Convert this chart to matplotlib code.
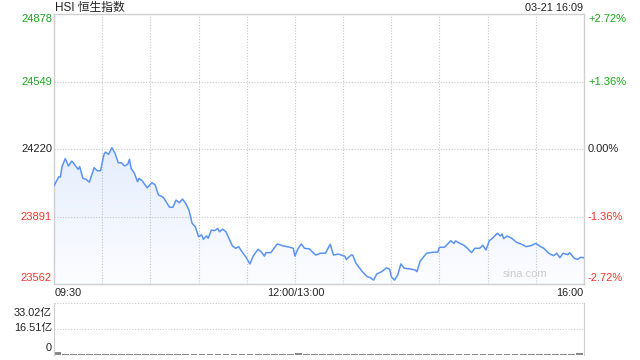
import numpy as np
import matplotlib
matplotlib.use("Agg")
import matplotlib.pyplot as plt
from matplotlib.patches import PathPatch
from matplotlib.path import Path

plt.rcParams['font.family'] = ['Liberation Sans', 'Noto Sans CJK SC', 'DejaVu Sans']

# ---- data ----
title = "HSI 恒生指数"
stamp = "03-21 16:09"
prev_close = 24220
y_ticks = [23562, 23891, 24220, 24549, 24878]
y_tick_labels = ["23562", "23891", "24220", "24549", "24878"]
pct_labels = ["-2.72%", "-1.36%", "0.00%", "+1.36%", "+2.72%"]
x_tick_labels = ["09:30", "12:00/13:00", "16:00"]
vol_tick_labels = ["0", "16.51亿", "33.02亿"]
vol_max = 33.02

# trading minutes since 09:30 (lunch break removed; 150 = 12:00/13:00)
minutes = [0, 3, 4, 5, 7, 9, 11, 12, 15, 16, 18, 20, 22, 25, 27, 29, 31, 32, 34, 36,
           38, 40, 42, 44, 46, 47, 48, 50, 52, 53, 55, 58, 61, 63, 65, 68, 72, 74, 76, 78,
           80, 82, 84, 86, 88, 90, 92, 93, 95, 96, 98, 100, 102, 103, 105, 107, 111, 113, 115, 116,
           120, 122, 124, 127, 129, 131, 132, 135, 139, 143, 147, 149, 150, 152, 154, 156, 159, 163, 166, 169,
           172, 174, 177, 181, 182, 185, 186, 188, 192, 195, 197, 199, 201, 204, 207, 209, 210, 212, 214, 216,
           218, 222, 225, 226, 228, 232, 236, 239, 240, 243, 244, 247, 249, 250, 252, 255, 257, 260, 262, 265,
           267, 269, 271, 273, 276, 278, 279, 280, 282, 285, 288, 291, 294, 297, 300, 303, 305, 308, 311, 313,
           315, 317, 320, 321, 324, 326, 328, 330]
prices = [24041, 24085, 24083, 24134, 24173, 24137, 24161, 24153, 24121, 24134, 24077, 24072, 24058, 24129, 24114, 24114, 24191, 24205, 24194, 24226,
          24199, 24153, 24153, 24137, 24147, 24170, 24126, 24102, 24061, 24077, 24064, 24031, 24056, 24045, 23996, 23985, 23936, 23936, 23971, 23958,
          23976, 23955, 23923, 23858, 23841, 23793, 23801, 23780, 23796, 23785, 23825, 23822, 23833, 23817, 23829, 23817, 23749, 23736, 23744, 23731,
          23687, 23660, 23698, 23731, 23719, 23698, 23715, 23715, 23757, 23747, 23741, 23736, 23698, 23736, 23757, 23736, 23733, 23703, 23712, 23712,
          23756, 23703, 23708, 23698, 23682, 23703, 23703, 23663, 23622, 23598, 23593, 23581, 23611, 23622, 23641, 23634, 23598, 23581, 23606, 23660,
          23639, 23635, 23630, 23622, 23674, 23712, 23717, 23717, 23741, 23741, 23747, 23773, 23760, 23772, 23763, 23752, 23739, 23715, 23736, 23736,
          23751, 23728, 23773, 23785, 23809, 23796, 23806, 23783, 23796, 23785, 23765, 23756, 23744, 23749, 23760, 23744, 23736, 23712, 23700, 23712,
          23690, 23712, 23705, 23715, 23687, 23682, 23692, 23690]

# 5-minute volume bars (亿), barely visible in the reference
vol_minutes = list(range(0, 330, 5))
volumes = [1.6, 0.9, 0.8, 0.7, 0.7, 0.8, 0.7, 0.6, 0.7, 0.6, 0.6, 0.6, 0.6, 0.6, 0.6, 0.7, 0.9, 0.8, 0.7, 0.6,
           0.6, 0.6, 0.6, 0.6, 0.6, 0.6, 0.6, 0.6, 0.6, 0.9, 1.2, 0.6, 0.6, 0.6, 0.6, 0.6, 0.6, 0.6, 0.6, 0.6,
           0.6, 0.6, 0.6, 0.6, 0.6, 0.6, 0.6, 0.6, 0.6, 0.6, 0.6, 0.6, 0.6, 0.6, 0.6, 0.6, 0.6, 0.6, 0.6, 0.6,
           0.6, 0.6, 0.9, 0.7, 0.7, 1.0]

GREEN = "#1ea51e"
RED = "#f2352c"
BLACK = "#222222"
LINE = "#5a93f2"
BORDER = "#cfcfcf"
GRID = "#c8c8c8"

W, H = 640, 360
fig = plt.figure(figsize=(6.4, 3.6), dpi=100)

def fx(px):
    return px / W

def fy(py):
    return 1 - py / H

ax = fig.add_axes([fx(54), fy(284), fx(584) - fx(54), fy(14) - fy(284)])
ax.set_xlim(0, 330)
ax.set_ylim(y_ticks[0], y_ticks[-1])
for s in ax.spines.values():
    s.set_color(BORDER)
    s.set_linewidth(1)
ax.set_xticks([]); ax.set_yticks([])

for m in range(30, 330, 30):
    ax.axvline(m, color=GRID, lw=0.8, ls=(0, (1, 1.5)), zorder=1)
for v in y_ticks[1:-1]:
    ax.axhline(v, color=GRID, lw=0.8, ls=(0, (1, 1.5)), zorder=1)

# gradient fill under line
xs = np.array(minutes, float)
ys = np.array(prices, float)
verts = np.vstack([np.column_stack([xs, ys]),
                   [[xs[-1], y_ticks[0]], [xs[0], y_ticks[0]], [xs[0], ys[0]]]])
codes = [Path.MOVETO] + [Path.LINETO] * (len(verts) - 2) + [Path.CLOSEPOLY]
patch = PathPatch(Path(verts, codes), facecolor='none', edgecolor='none')
ax.add_patch(patch)
grad = np.zeros((100, 2, 4))
rgb = matplotlib.colors.to_rgb(LINE)
grad[..., 0], grad[..., 1], grad[..., 2] = rgb
alpha = np.linspace(0.16, 0.02, 100)
grad[..., 3] = alpha[:, None]
im = ax.imshow(grad, extent=[0, 330, y_ticks[0], max(prices)], origin='upper',
               aspect='auto', zorder=2, interpolation='bilinear')
im.set_clip_path(patch)
ax.plot(xs, ys, color=LINE, lw=1.1, zorder=3)

ax.text(0.93, 0.02, "sina.com", transform=ax.transAxes, color="#cccccc",
        fontsize=8, ha='right', va='bottom', zorder=4)

# left / right labels
colors = [RED, RED, BLACK, GREEN, GREEN]
ypos = [278, 217, 149, 82, 19]
for lab, pl, c, yp in zip(y_tick_labels, pct_labels, colors, ypos):
    fig.text(fx(52), fy(yp), lab, color=c, fontsize=8, ha='right', va='center')
    fig.text(fx(588), fy(yp), pl, color=c, fontsize=8, ha='left', va='center')

fig.text(fx(55), fy(8), title, color=BLACK, fontsize=8.5, ha='left', va='center')
fig.text(fx(583), fy(8), stamp, color=BLACK, fontsize=7.8, ha='right', va='center')

fig.text(fx(55), fy(293), x_tick_labels[0], color=BLACK, fontsize=7.8, ha='left', va='center')
fig.text(fx(296), fy(293), x_tick_labels[1], color=BLACK, fontsize=7.8, ha='center', va='center')
fig.text(fx(583), fy(293), x_tick_labels[2], color=BLACK, fontsize=7.8, ha='right', va='center')

# volume panel
vax = fig.add_axes([fx(54), fy(355), fx(584) - fx(54), fy(303) - fy(355)])
vax.set_xlim(0, 330)
vax.set_ylim(0, vol_max)
vax.set_xticks([]); vax.set_yticks([])
for k in ['left', 'right']:
    vax.spines[k].set_color(BORDER)
vax.spines['bottom'].set_visible(False)
vax.spines['top'].set_visible(False)
vax.axhline(vol_max, color=GRID, lw=0.8, ls=(0, (1, 1.5)))
vax.axhline(vol_max / 2, color=GRID, lw=0.8, ls=(0, (1, 1.5)))
vax.bar(vol_minutes, volumes, width=4.2, align='edge', color="#8a8a8a", lw=0)

for lab, yp in zip(vol_tick_labels, [348, 328, 313]):
    fig.text(fx(52), fy(yp), lab, color=BLACK, fontsize=7.8, ha='right', va='center')

fig.savefig("out.png", dpi=100)
